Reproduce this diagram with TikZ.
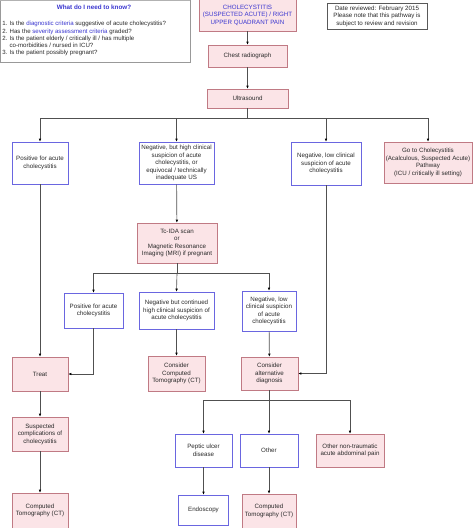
\documentclass[tikz,border=0pt]{standalone}
\usepackage{fontspec}
\setmainfont{Liberation Sans}
\usetikzlibrary{arrows.meta}
\definecolor{pinkfill}{HTML}{FBE4E7}
\definecolor{pinkline}{HTML}{C07A84}
\definecolor{blueline}{HTML}{6A66E0}
\definecolor{bluetext}{HTML}{3A36D0}
\definecolor{txt}{HTML}{2A2A2A}
\definecolor{conn}{HTML}{505050}
\tikzset{
  base/.style={inner sep=1pt, align=center, text=txt, font=\fontsize{6.2}{7.5}\selectfont, line width=0.6pt},
  pinkbox/.style={base, draw=pinkline, fill=pinkfill},
  bluebox/.style={base, draw=blueline, fill=white},
  arr/.style={draw=conn, line width=0.65pt, -{Latex[length=3pt,width=2.6pt,color=black]}},
  ln/.style={draw=conn, line width=0.65pt},
}
\begin{document}
\begin{tikzpicture}[x=1pt,y=-1pt]
\useasboundingbox (0,0) rectangle (474,528);
% info box
\draw[draw=gray!80, line width=0.5pt, fill=white] (0,0.5) rectangle (190,62);
\draw[draw=gray!60, line width=1.2pt] (0,0.6) -- (190,0.6);
\node[base, font=\bfseries\fontsize{6.3}{7}\selectfont, text=bluetext] (infotitle) at (94,7) {What do I need to know?};
\node[base, anchor=north west, align=left, font=\fontsize{6.1}{7.3}\selectfont] (infotext) at (1,20) {1. Is the \textcolor{bluetext}{diagnostic criteria} suggestive of acute cholecystitis?\\
2. Has the \textcolor{bluetext}{severity assessment criteria} graded?\\
2. Is the patient elderly / critically ill / has multiple\\
\hphantom{2. }co-morbidities / nursed in ICU?\\
3. Is the patient possibly pregnant?};
% date box
\node[base, draw=gray!70!black, fill=white, minimum width=100pt, minimum height=26pt] (date) at (377,16) {Date reviewed: February 2015\\Please note that this pathway is\\subject to review and revision};
% main nodes
\node[pinkbox, text=bluetext, minimum width=97pt, minimum height=32pt] (top) at (247.5,15) {CHOLECYSTITIS\\(SUSPECTED ACUTE) / RIGHT\\UPPER QUADRANT PAIN};
\node[pinkbox, minimum width=79pt, minimum height=22pt] (chest) at (247.5,56) {Chest radiograph};
\node[pinkbox, minimum width=81pt, minimum height=19pt] (us) at (247.5,98.5) {Ultrasound};
\node[bluebox, minimum width=56pt, minimum height=42pt] (pos1) at (40,163) {Positive for acute\\cholecystitis};
\node[bluebox, minimum width=75pt, minimum height=42pt] (neghigh) at (176.5,163) {Negative, but high clinical\\suspicion of acute\\cholecystitis, or\\equivocal / technically\\inadequate US};
\node[bluebox, minimum width=70pt, minimum height=43pt] (neglow) at (326,163.5) {Negative, low clinical\\suspicion of acute\\cholecystitis};
\node[pinkbox, minimum width=88pt, minimum height=41pt] (goto) at (428,162.5) {Go to Cholecystitis\\(Acalculous, Suspected Acute)\\Pathway\\(ICU / critically ill setting)};
\node[pinkbox, minimum width=80pt, minimum height=40pt] (tcida) at (177,243) {Tc-IDA scan\\or\\Magnetic Resonance\\Imaging (MRI) if pregnant};
\node[bluebox, minimum width=59pt, minimum height=35pt] (pos2) at (93.5,310.5) {Positive for acute\\cholecystitis};
\node[bluebox, minimum width=75pt, minimum height=37pt] (negcont) at (176.5,310.5) {Negative but continued\\high clinical suspicion of\\acute cholecystitis};
\node[bluebox, minimum width=54pt, minimum height=40pt] (neglow2) at (269,311) {Negative, low\\clinical suspicion\\of acute\\cholecystitis};
\node[pinkbox, minimum width=56pt, minimum height=34pt] (treat) at (40,374) {Treat};
\node[pinkbox, minimum width=57pt, minimum height=35pt] (ct1) at (176.5,373.5) {Consider\\Computed\\Tomography (CT)};
\node[pinkbox, minimum width=57pt, minimum height=33pt] (alt) at (269.5,373.5) {Consider\\alternative\\diagnosis};
\node[pinkbox, minimum width=56pt, minimum height=34pt] (susp) at (40,434) {Suspected\\complications of\\cholecystitis};
\node[pinkbox, minimum width=56pt, minimum height=35pt] (ct3) at (40,510.5) {Computed\\Tomography (CT)};
\node[bluebox, minimum width=57pt, minimum height=33pt] (peptic) at (203.5,450.5) {Peptic ulcer\\disease};
\node[bluebox, minimum width=58pt, minimum height=33pt] (other) at (269,450.5) {Other};
\node[pinkbox, minimum width=68pt, minimum height=33pt] (nontrau) at (350,450.5) {Other non-traumatic\\acute abdominal pain};
\node[bluebox, minimum width=50pt, minimum height=30pt] (endo) at (203.5,510) {Endoscopy};
\node[pinkbox, minimum width=54pt, minimum height=34pt] (ct2) at (269,511) {Computed\\Tomography (CT)};
% connectors
\draw[arr] (top) -- (chest);
\draw[arr] (chest) -- (us);
\coordinate (b1) at (247.5,118);
\draw[ln] (us.south) -- (b1);
\draw[arr] (b1) -| (pos1.north);
\draw[arr] (b1) -| (neghigh.north);
\draw[arr] (b1) -| (neglow.north);
\draw[arr] (b1) -| (goto.north);
\draw[arr] (pos1) -- (treat);
\draw[arr] (neghigh) -- (tcida);
\coordinate (b2) at (177,273);
\draw[ln] (tcida.south) -- (b2);
\draw[arr] (b2) -| (pos2.north);
\draw[arr] (b2) -- (negcont.north);
\draw[arr] (b2) -| (neglow2.north);
\draw[arr] (pos2.south) |- (treat.east);
\draw[arr] (negcont) -- (ct1);
\draw[arr] (neglow.south) |- (alt.east);
\draw[arr] (neglow2) -- (alt);
\coordinate (b3) at (269.5,400);
\draw[ln] (alt.south) -- (b3);
\draw[arr] (b3) -| (peptic.north);
\draw[arr] (b3) -| (other.north);
\draw[arr] (b3) -| (nontrau.north);
\draw[arr] (peptic) -- (endo);
\draw[arr] (other) -- (ct2);
\draw[arr] (treat) -- (susp);
\draw[arr] (susp) -- (ct3);
\end{tikzpicture}
\end{document}
